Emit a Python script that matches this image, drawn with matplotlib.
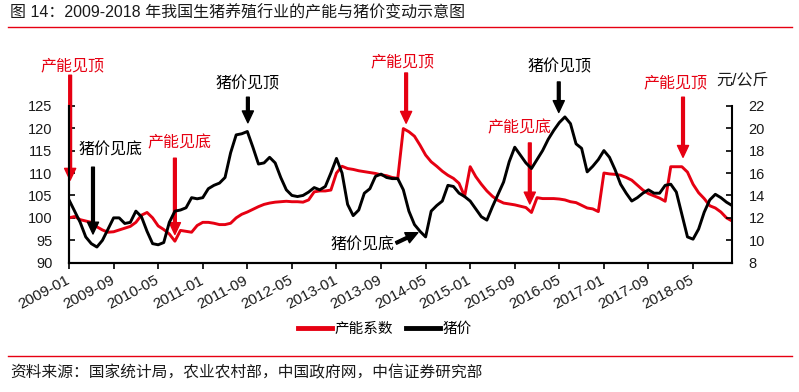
import matplotlib.pyplot as plt
import numpy as np
from matplotlib.lines import Line2D

plt.rcParams['font.family'] = ['Liberation Sans', 'Noto Sans CJK SC']

# monthly data 2009-01 .. 2018-12
tick_labels = ['2009-01', '2009-09', '2010-05', '2011-01', '2011-09', '2012-05',
               '2013-01', '2013-09', '2014-05', '2015-01', '2015-09', '2016-05',
               '2017-01', '2017-09', '2018-05']

capacity = [100.0, 100.3, 99.6, 99.3, 99.0, 98.0, 97.3, 96.8, 96.9, 97.3,
            97.7, 98.1, 99.0, 100.6, 101.2, 100.0, 98.2, 97.4, 96.4, 94.8,
            97.2, 97.0, 96.8, 98.3, 99.0, 99.0, 98.8, 98.5, 98.5, 98.8,
            100.0, 100.8, 101.3, 101.9, 102.5, 103.0, 103.3, 103.5, 103.6, 103.7,
            103.6, 103.6, 103.5, 104.0, 105.8, 106.0, 106.0, 106.2, 110.0, 111.5,
            111.0, 110.8, 110.5, 110.3, 110.1, 109.9, 109.6, 109.4, 109.0, 108.8,
            119.9, 119.2, 118.2, 116.2, 114.0, 112.5, 111.5, 110.4, 109.5, 108.8,
            107.7, 104.8, 111.4, 109.2, 107.5, 106.0, 104.8, 103.9, 103.3, 103.1,
            102.9, 102.6, 102.3, 101.2, 104.5, 104.3, 104.3, 104.3, 104.2, 104.0,
            103.6, 103.4, 102.8, 102.2, 102.0, 101.4, 110.0, 109.8, 109.7, 109.5,
            109.0, 108.4, 107.3, 106.2, 105.4, 104.9, 104.4, 103.7, 111.4, 111.4,
            111.4, 110.2, 107.5, 105.6, 104.3, 102.7, 102.2, 101.3, 100.0, 99.3]

price = [13.6, 12.6, 11.6, 10.3, 9.7, 9.4, 10.0, 11.0, 12.0, 12.0,
         11.5, 11.6, 12.6, 12.1, 10.8, 9.7, 9.6, 9.8, 11.6, 12.6,
         12.7, 12.9, 13.8, 13.7, 13.8, 14.6, 14.9, 15.1, 15.6, 17.8,
         19.4, 19.5, 19.7, 18.3, 16.8, 16.9, 17.4, 16.9, 15.6, 14.5,
         14.0, 13.9, 14.0, 14.3, 14.7, 14.5, 14.8, 16.0, 17.3, 16.0,
         13.2, 12.2, 12.7, 14.2, 14.6, 15.7, 15.9, 15.6, 15.5, 15.5,
         14.5, 12.6, 11.4, 10.8, 10.3, 12.6, 13.1, 13.5, 14.9, 14.8,
         14.2, 13.9, 13.5, 12.8, 12.1, 11.8, 13.0, 14.1, 15.2, 17.0,
         18.3, 17.6, 16.9, 16.4, 17.2, 18.0, 19.0, 19.8, 20.5, 21.0,
         20.4, 18.6, 18.2, 16.1, 16.6, 17.2, 18.0, 17.4, 16.3, 15.0,
         14.2, 13.5, 13.8, 14.2, 14.5, 14.2, 14.2, 14.9, 15.0, 14.3,
         12.3, 10.3, 10.1, 11.0, 12.5, 13.6, 14.1, 13.8, 13.4, 13.1]

RED = '#e60012'
BLK = '#000000'
TXT = '#1a1a1a'

x = np.arange(len(capacity))

fig = plt.figure(figsize=(7.99, 3.92), dpi=100)
ax = fig.add_axes([0.0864, 0.3298, 0.8298, 0.4005])
ax2 = ax.twinx()

l1, = ax.plot(x, capacity, color=RED, lw=2.1, label='产能系数')
l2, = ax2.plot(x, price, color=BLK, lw=2.1, label='猪价')

ax.set_xlim(0, 119)
ax.set_ylim(90, 125)
ax.set_yticks(np.arange(90, 126, 5))
ax2.set_ylim(8, 22)
ax2.set_yticks(np.arange(8, 23, 2))
ax.set_xticks(np.arange(0, 120, 8))
ax.set_xticklabels(tick_labels, rotation=28, ha='right', va='center',
                   rotation_mode='anchor')

for a in (ax, ax2):
    a.spines['top'].set_visible(False)
    for s in a.spines.values():
        s.set_linewidth(1.5)
ax.spines['right'].set_visible(False)
ax.tick_params(axis='y', direction='in', length=4, width=1.2, labelsize=10.5,
               pad=12, colors=TXT)
ax.tick_params(axis='x', direction='out', length=4, width=1.2, labelsize=11,
               pad=8, colors=TXT)
ax2.tick_params(axis='y', direction='in', length=4, width=1.2, labelsize=10.5,
                pad=12, colors=TXT)
for a in (ax, ax2):
    a.tick_params(color='black')

# annotations: text, colour, text pos, arrow start, arrow end (left-axis coords)
notes = [
    ('产能见顶', RED, (0.6, 133.8), (0.2, 131.8), (0.2, 108.4)),
    ('猪价见底', BLK, (7.4, 115.1), (4.3, 111.3), (4.3, 96.4)),
    ('产能见底', RED, (19.9, 116.7), (19.0, 113.3), (19.0, 96.3)),
    ('猪价见顶', BLK, (32.0, 129.8), (32.1, 126.9), (32.1, 121.2)),
    ('产能见顶', RED, (59.8, 134.7), (60.5, 132.3), (60.5, 121.1)),
    ('猪价见底', BLK, (52.6, 93.9), (58.7, 94.4), (62.6, 96.7)),
    ('产能见底', RED, (80.8, 120.0), (82.7, 116.7), (82.7, 103.1)),
    ('猪价见顶', BLK, (88.1, 133.8), (87.9, 130.3), (87.9, 123.5)),
    ('产能见顶', RED, (108.8, 130.0), (110.2, 126.9), (110.2, 113.5)),
]
for txt, col, tpos, a0, a1 in notes:
    ax.text(tpos[0], tpos[1], txt, color=col, fontsize=11.5, ha='center',
            va='center', clip_on=False, zorder=5)
    ax.annotate('', xy=a1, xytext=a0, annotation_clip=False, zorder=5,
                arrowprops=dict(facecolor=col, edgecolor=col, width=2.0,
                                headwidth=8, headlength=8.5, shrink=0))

ax.text(120.8, 130.7, '元/公斤', color=TXT, fontsize=11.5, ha='center',
        va='center', clip_on=False)

fig.legend(handles=[l1, l2], loc='center', bbox_to_anchor=(385 / 799, 1 - 329 / 392),
           ncol=2, frameon=False, fontsize=10.5, handlelength=2.3,
           handletextpad=0.2, columnspacing=0.9, borderaxespad=0)
for h in fig.legends[0].get_lines():
    h.set_linewidth(3.5)

fig.text(10 / 799, 1 - 13 / 392, '图 14：2009-2018 年我国生猪养殖行业的产能与猪价变动示意图',
         fontsize=11.5, color=TXT, va='center', ha='left')
fig.add_artist(Line2D([8 / 799, 792 / 799], [1 - 27 / 392] * 2, color=RED, lw=1.0))
fig.add_artist(Line2D([8 / 799, 792 / 799], [1 - 356 / 392] * 2, color=RED, lw=1.0))
fig.text(10 / 799, 1 - 373 / 392, '资料来源：国家统计局，农业农村部，中国政府网，中信证券研究部',
         fontsize=11.3, color=TXT, va='center', ha='left')

fig.savefig('out.png', dpi=100)
